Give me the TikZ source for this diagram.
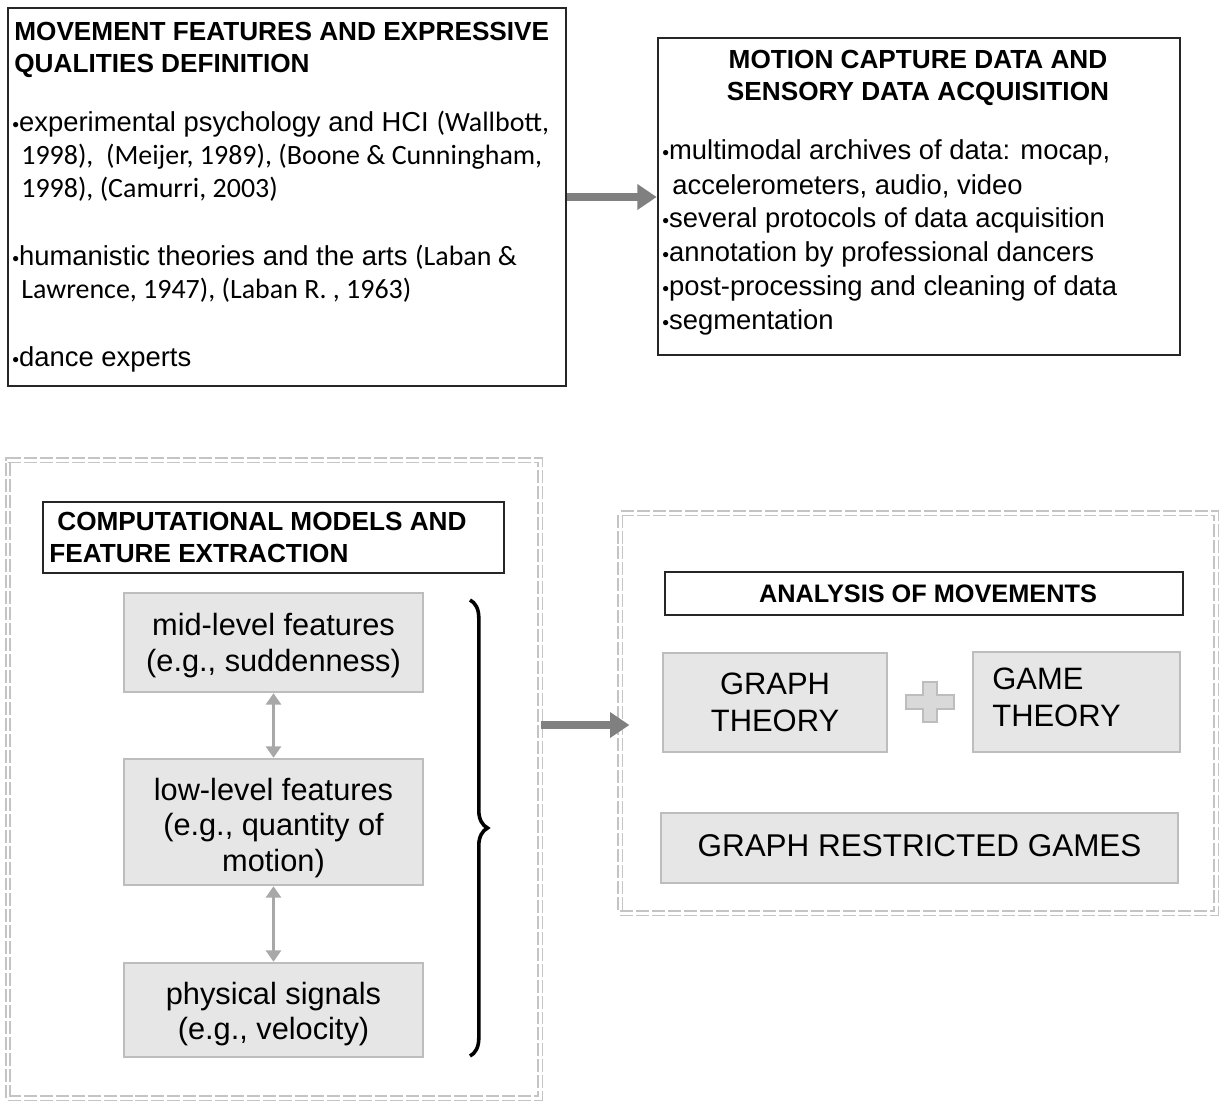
\documentclass[tikz,border=0pt]{standalone}
\usepackage{fontspec}
\setmainfont{Liberation Sans}
\newfontfamily\calfont{Carlito}
\usetikzlibrary{fit,arrows.meta,decorations.pathreplacing,calc}

\definecolor{framegray}{HTML}{262626}
\definecolor{boxfill}{HTML}{E6E6E6}
\definecolor{boxedge}{HTML}{BDBDBD}
\definecolor{arrowgray}{HTML}{808080}
\definecolor{linkgray}{HTML}{A8A8A8}
\definecolor{dashgray}{HTML}{C4C4C4}
\definecolor{plusfill}{HTML}{D9D9D9}

% one unit of the drawing grid
\newdimen\pxu \pxu=0.5669pt

\newcommand\bodysize{\fontsize{15.6}{19.3}\selectfont}
\newcommand\citesize{\fontsize{15.9}{19.3}\selectfont}
\newcommand\headsize{\bfseries\fontsize{14.9}{18}\selectfont}
\newcommand\subheadsize{\bfseries\fontsize{14.4}{18}\selectfont}
\newcommand\greysize{\fontsize{17.5}{20.2}\selectfont}
\newcommand\capsize{\fontsize{17.6}{21}\selectfont}
\newcommand\wideSize{\fontsize{17.9}{21}\selectfont}
\newcommand\bul{{\fontsize{11}{11}\selectfont •}}

\begin{document}
\begin{tikzpicture}[x=0.02cm,y=-0.02cm,
  frame/.style={draw=framegray,line width=2.6\pxu,inner sep=0pt},
  greybox/.style={draw=boxedge,fill=boxfill,line width=2.4\pxu,inner sep=0pt},
  container/.style={draw=dashgray,line width=1.2\pxu,double=white,double distance=3\pxu,
    dash pattern=on 13\pxu off 3\pxu,inner sep=0pt},
  line/.style={anchor=base west,inner sep=0pt,font=\bodysize},
  head/.style={anchor=base west,inner sep=0pt,font=\headsize},
  greytext/.style={align=center,font=\greysize,inner sep=0pt},
  bigarrow/.style={draw=arrowgray,line width=8\pxu,-{Triangle[length=11pt,width=14pt]}},
  link/.style={draw=linkgray,line width=4\pxu,{Triangle[length=6.5pt,width=8.5pt]}-{Triangle[length=6.5pt,width=8.5pt]}}]

\useasboundingbox (0,0) rectangle (1219,1102);

% ---------- upper left: feature definition ----------
\node[frame,fit={(8,8) (566,386)}] (defs) {};
\node[head] (defs-t1) at (14,40) {MOVEMENT FEATURES AND EXPRESSIVE};
\node[head] (defs-t2) at (14,72) {QUALITIES DEFINITION};
\node[line] (defs-a1) at (12,131) {\bul experimental psychology and HCI {\calfont\citesize(Wallbott,}};
\node[line,font=\calfont\citesize] (defs-a2) at (21,164) {1998),\ \ (Meijer, 1989), (Boone \& Cunningham,};
\node[line,font=\calfont\citesize] (defs-a3) at (21,197) {1998), (Camurri, 2003)};
\node[line] (defs-b1) at (12,265) {\bul humanistic theories and the arts {\calfont\citesize(Laban \&}};
\node[line,font=\calfont\citesize] (defs-b2) at (21,298) {Lawrence, 1947), (Laban R. , 1963)};
\node[line] (defs-c1) at (12,366) {\bul dance experts};

% ---------- upper right: data acquisition ----------
\node[frame,fit={(658,38) (1180,355)}] (acq) {};
\node[anchor=base,inner sep=0pt,font=\headsize] (acq-t1) at (918,68) {MOTION CAPTURE DATA AND};
\node[anchor=base,inner sep=0pt,font=\headsize] (acq-t2) at (918,100) {SENSORY DATA ACQUISITION};
\node[line] (acq-1) at (662,159) {\bul multimodal archives of data: mocap,};
\node[line] (acq-1b) at (672,194) {accelerometers, audio, video};
\node[line] (acq-2) at (662,227) {\bul several protocols of data acquisition};
\node[line] (acq-3) at (662,261) {\bul annotation by professional dancers};
\node[line] (acq-4) at (662,295) {\bul post-processing and cleaning of data};
\node[line] (acq-5) at (662,329) {\bul segmentation};

\draw[bigarrow] (defs.east) -- (acq.west |- defs.east);

% ---------- lower left: computational models ----------
\node[container,fit={(8,460) (540,1098)}] (models) {};
\node[frame,fit={(43,502) (504,573)}] (models-h) {};
\node[head] (models-t1) at (57,530) {COMPUTATIONAL MODELS AND};
\node[head] (models-t2) at (49,562) {FEATURE EXTRACTION};

\node[greybox,fit={(124,593) (423,692)}] (mid) {};
\node[greytext] at ($(mid)+(0,3)$) {mid-level features\\(e.g., suddenness)};
\node[greybox,fit={(124,759) (423,885)}] (low) {};
\node[greytext] at ($(low)+(0,6)$) {low-level features\\(e.g., quantity of\\motion)};
\node[greybox,fit={(124,963) (423,1057)}] (phys) {};
\node[greytext] at ($(phys)+(0,4)$) {physical signals\\(e.g., velocity)};

\draw[link] (mid.south) -- (low.north);
\draw[link] (low.south) -- (phys.north);

\draw[line width=3.6\pxu,decorate,decoration={brace,amplitude=10pt}] (470,600) -- (470,1056);

% ---------- lower right: analysis ----------
\node[container,fit={(620,513) (1216,913)}] (analysis) {};
\node[frame,fit={(665,572) (1183,615)}] (analysis-h) {};
\node[anchor=base,inner sep=0pt,font=\subheadsize] at (928,602) {ANALYSIS OF MOVEMENTS};

\node[greybox,fit={(663,653) (887,752)}] (graph) {};
\node[align=center,font=\capsize,inner sep=0pt] at (graph) {GRAPH\\THEORY};
\node[greybox,fit={(973,652) (1180,752)}] (game) {};
\node[align=left,font=\capsize,inner sep=0pt,anchor=west] at (992,697) {GAME\\THEORY};
\node[greybox,fit={(661,813) (1178,883)}] (grg) {};
\node[font=\wideSize,inner sep=0pt] at ($(grg)+(0,-2)$) {GRAPH RESTRICTED GAMES};

% plus sign between the two theories
\draw[draw=boxedge,fill=plusfill,line width=1.4\pxu]
  (923,682) -- (937,682) -- (937,695) -- (954,695) -- (954,709) -- (937,709)
  -- (937,722) -- (923,722) -- (923,709) -- (906,709) -- (906,695) -- (923,695) -- cycle;

\coordinate (flow) at (models.east |- 0,725);
\draw[bigarrow] (flow) -- ($(analysis.west |- flow)+(10,0)$);
\end{tikzpicture}
\end{document}
